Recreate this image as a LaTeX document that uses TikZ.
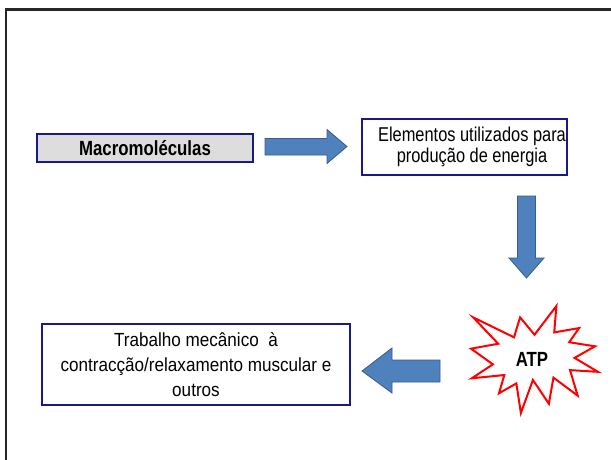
\documentclass[tikz,border=0pt]{standalone}
\usepackage{fontspec}
\setmainfont{Liberation Sans}
\newfontfamily\fa[FakeStretch=0.82]{Liberation Sans}
\newfontfamily\fb[FakeStretch=0.9]{Liberation Sans}
\definecolor{boxblue}{RGB}{25,25,135}
\definecolor{arrfill}{HTML}{4F81BD}
\definecolor{arrdraw}{HTML}{385D8A}
\definecolor{boxgray}{RGB}{221,221,221}
\tikzset{
  box/.style={draw=boxblue, line width=2pt, inner sep=0pt, align=center, text=black},
  blockarrow/.style={fill=arrfill, draw=arrdraw, line width=0.8pt, line join=miter},
  seal/.style={draw=red, line width=2pt, fill=white, line join=miter}
}
\begin{document}
\begin{tikzpicture}[x=1pt,y=-1pt]
\clip (0,0) rectangle (611,459);
\fill[white] (0,0) rectangle (611,459);
% frame
\draw[line width=2.5pt, black!85] (6,470) -- (6,9.5) -- (620,9.5);

% boxes
\node[box, fill=boxgray, minimum width=216pt, minimum height=28pt,
      font=\fa\fontsize{20.5}{22}\selectfont\bfseries] (macro) at (145,148) {Macromoléculas};
\node[box, fill=white, minimum width=205pt, minimum height=56pt,
      font=\fa\fontsize{20}{21}\selectfont] (elem) at (464.5,147)
      {\hspace*{15pt}Elementos utilizados para\\\hspace*{15pt}produção de energia};
\node[box, fill=white, minimum width=308pt, minimum height=81pt,
      font=\fb\fontsize{19}{25}\selectfont] (trab) at (196,364.5)
      {Trabalho mecânico\ \ à\\contracção/relaxamento muscular e\\outros};

% block arrows
\draw[blockarrow] (265,138.5) -- (327,138.5) -- (327,129.5) -- (347,146.5)
  -- (327,163.5) -- (327,155) -- (265,155) -- cycle;
\draw[blockarrow] (517.5,196) -- (535.5,196) -- (535.5,258) -- (544,258)
  -- (526.5,278) -- (509,258) -- (517.5,258) -- cycle;
\draw[blockarrow] (440,360) -- (392,360) -- (392,348) -- (362,371)
  -- (392,393) -- (392,382) -- (440,382) -- cycle;

% explosion
\begin{scope}[shift={(471,306)}, xscale=127/216, yscale=107/216]
\draw[seal] (108,58) -- (145.22,0) -- (141.55,53.25) -- (183.8,44.57)
  -- (167.02,73.15) -- (210.97,81.37) -- (176.07,104.75) -- (216,132.9)
  -- (168.37,129.42) -- (181.45,180.95) -- (140.2,144.57) -- (132.47,197.37)
  -- (105.32,149.35) -- (84.85,216) -- (77.15,156.27) -- (47.62,176.17)
  -- (56.67,139.37) -- (1.35,145.87) -- (37.22,117.75) -- (0,86.15)
  -- (46.27,76.17) -- (3.7,22.95) -- (73.12,63.2) -- (83.52,22.95) -- cycle;
\end{scope}
\node[font=\fa\fontsize{20.5}{22}\selectfont\bfseries, inner sep=0pt] (atp) at (532,359) {ATP};
\end{tikzpicture}
\end{document}
